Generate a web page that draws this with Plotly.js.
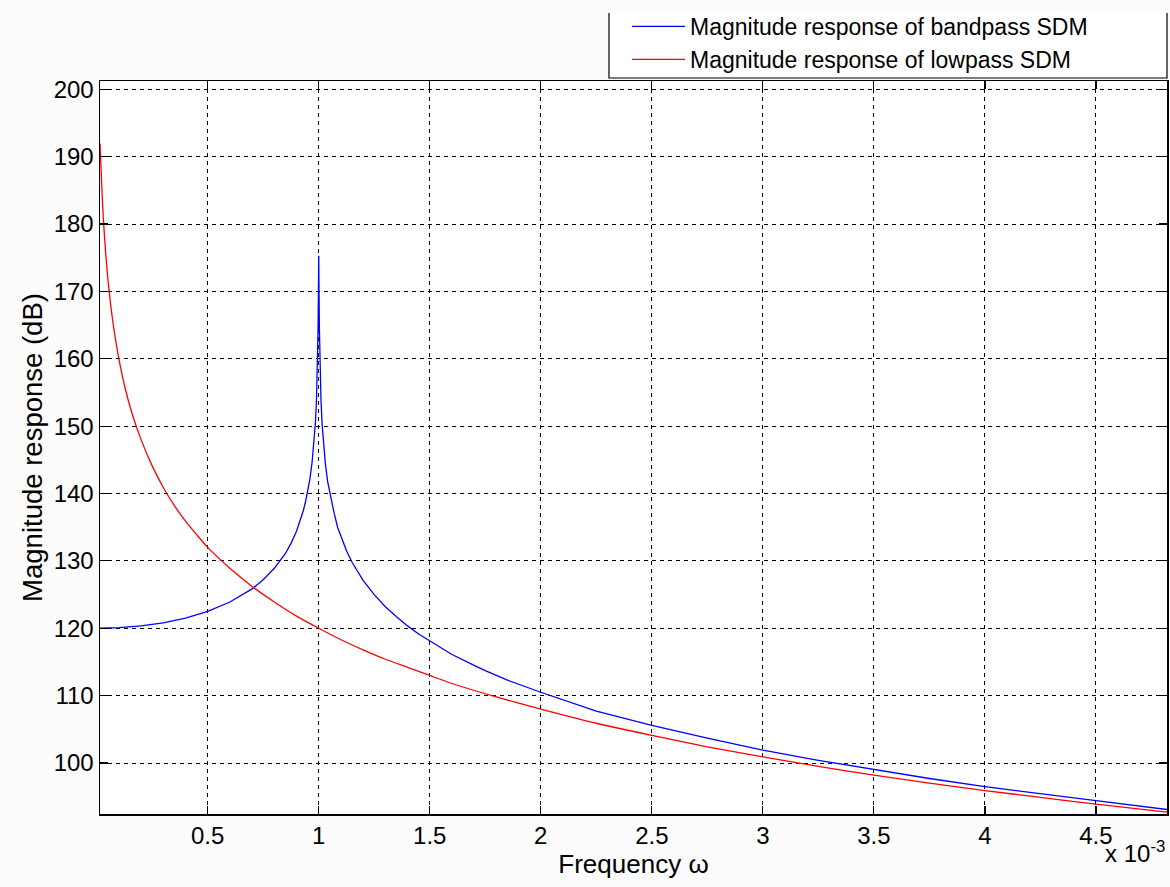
<!DOCTYPE html>
<html>
<head>
<meta charset="utf-8">
<script src="https://cdn.plot.ly/plotly-3.0.1.min.js"></script>
<style>html,body{margin:0;padding:0;background:#fcfcfc;}</style>
</head>
<body>
<div id="chart" style="width:1170px;height:887px;"></div>
<script>
// Frequency (in units of 1e-3) and magnitude responses (dB)
const freqLow = [0.015, 0.02, 0.025, 0.03, 0.04, 0.05, 0.06, 0.07, 0.08, 0.1, 0.13, 0.16, 0.2, 0.25, 0.3, 0.35, 0.4, 0.45, 0.5, 0.6, 0.7, 0.8, 0.9, 1.0, 1.1, 1.2, 1.3, 1.4, 1.5, 1.6, 1.8, 2.0, 2.25, 2.5, 2.75, 3.0, 3.25, 3.5, 3.75, 4.0, 4.25, 4.5, 4.82];
const lowpassDb = [192.0, 188.0, 184.1, 180.9, 175.9, 172.0, 168.9, 166.2, 163.9, 160.0, 155.4, 151.8, 148.0, 144.1, 140.9, 138.2, 135.9, 133.9, 132.0, 128.9, 126.2, 123.9, 121.8, 120.0, 118.3, 116.8, 115.4, 114.2, 113.0, 111.8, 109.8, 108.0, 105.9, 104.1, 102.4, 100.9, 99.5, 98.2, 97.0, 95.9, 94.9, 93.9, 92.7];

const freqBand = [0.015, 0.1, 0.2, 0.3, 0.4, 0.5, 0.6, 0.7, 0.75, 0.8, 0.85, 0.875, 0.9, 0.915, 0.93, 0.94, 0.95, 0.96, 0.97, 0.98, 0.985, 0.99, 0.995, 0.997, 0.999, 1.0, 1.001, 1.003, 1.005, 1.01, 1.015, 1.02, 1.03, 1.04, 1.05, 1.06, 1.07, 1.085, 1.1, 1.125, 1.15, 1.175, 1.2, 1.25, 1.3, 1.35, 1.4, 1.45, 1.5, 1.6, 1.7, 1.75, 1.85, 2.0, 2.25, 2.5, 2.75, 3.0, 3.25, 3.5, 3.75, 4.0, 4.25, 4.5, 4.82];
const bandpassDb = [120.0, 120.1, 120.35, 120.8, 121.5, 122.5, 123.9, 125.85, 127.2, 128.9, 131.1, 132.6, 134.4, 135.8, 137.4, 138.7, 140.2, 142.1, 144.6, 148.0, 150.5, 154.0, 160.0, 164.5, 171.0, 175.3, 171.0, 164.5, 160.0, 154.0, 150.4, 148.0, 144.4, 141.8, 140.0, 138.2, 137.0, 135.0, 133.6, 131.5, 129.8, 128.4, 127.1, 125.0, 123.2, 121.7, 120.35, 119.15, 118.1, 116.1, 114.5, 113.7, 112.3, 110.5, 107.7, 105.6, 103.7, 101.9, 100.4, 99.0, 97.7, 96.5, 95.4, 94.4, 93.1];

const seriesNames = ['Magnitude response of bandpass SDM', 'Magnitude response of lowpass SDM'];
const xTickVals = [0.5, 1, 1.5, 2, 2.5, 3, 3.5, 4, 4.5];
const yTickVals = [100, 110, 120, 130, 140, 150, 160, 170, 180, 190, 200];

const FONT = 'Liberation Sans, Arial, sans-serif';

const traces = [
  {x: freqBand, y: bandpassDb, type: 'scatter', mode: 'lines', name: seriesNames[0],
   line: {color: '#0000ff', width: 1.3}},
  {x: freqLow, y: lowpassDb, type: 'scatter', mode: 'lines', name: seriesNames[1],
   line: {color: '#ff0000', width: 1.3, shape: 'spline', smoothing: 0.6}}
];

const axisCommon = {
  showline: true, linecolor: '#000', linewidth: 1.5, mirror: 'ticks',
  ticks: 'inside', ticklen: 8, tickcolor: '#000', tickwidth: 1.2,
  showgrid: true, gridcolor: '#000', gridwidth: 1, griddash: '4px,4px',
  zeroline: false, tickfont: {family: FONT, size: 24, color: '#000'}
};

// legend frame (left, bottom and right edges) in paper coordinates
const boxL = (609 - 100) / 1067, boxT = (814 - 13) / 733, boxB = (814 - 78) / 733;

const layout = {
  width: 1170, height: 887,
  paper_bgcolor: '#fcfcfc', plot_bgcolor: '#ffffff',
  margin: {l: 100, r: 3, t: 81, b: 73},
  font: {family: FONT, color: '#000'},
  xaxis: Object.assign({}, axisCommon, {
    range: [0.015, 4.82], tickvals: xTickVals,
    ticktext: xTickVals.map(v => String(v)),
    title: {text: 'Frequency ω', font: {family: FONT, size: 26, color: '#000'}, standoff: 5}
  }),
  yaxis: Object.assign({}, axisCommon, {
    range: [92.43, 201.23], tickvals: yTickVals,
    title: {text: 'Magnitude response (dB)', font: {family: FONT, size: 27.5, color: '#000'}, standoff: 3}
  }),
  showlegend: true,
  legend: {
    x: (627 - 100) / 1067, xanchor: 'left', y: 1.0, yanchor: 'bottom',
    bgcolor: 'rgba(0,0,0,0)', borderwidth: 0,
    font: {family: FONT, size: 23, color: '#000'},
    itemwidth: 53, tracegroupgap: 0
  },
  shapes: [{
    type: 'path', xref: 'paper', yref: 'paper',
    path: `M ${boxL} ${boxT} L ${boxL} ${boxB} L 1 ${boxB} L 1 ${boxT}`,
    line: {color: '#000', width: 1.2}, fillcolor: 'rgba(255,255,255,1)', layer: 'below'
  }],
  annotations: [{
    xref: 'paper', yref: 'paper', x: 1, y: -0.052, xanchor: 'right', yanchor: 'middle',
    text: 'x 10<sup>-3</sup>', showarrow: false, font: {family: FONT, size: 24, color: '#000'}
  }]
};

Plotly.newPlot('chart', traces, layout, {displayModeBar: false, staticPlot: true});
</script>
</body>
</html>
